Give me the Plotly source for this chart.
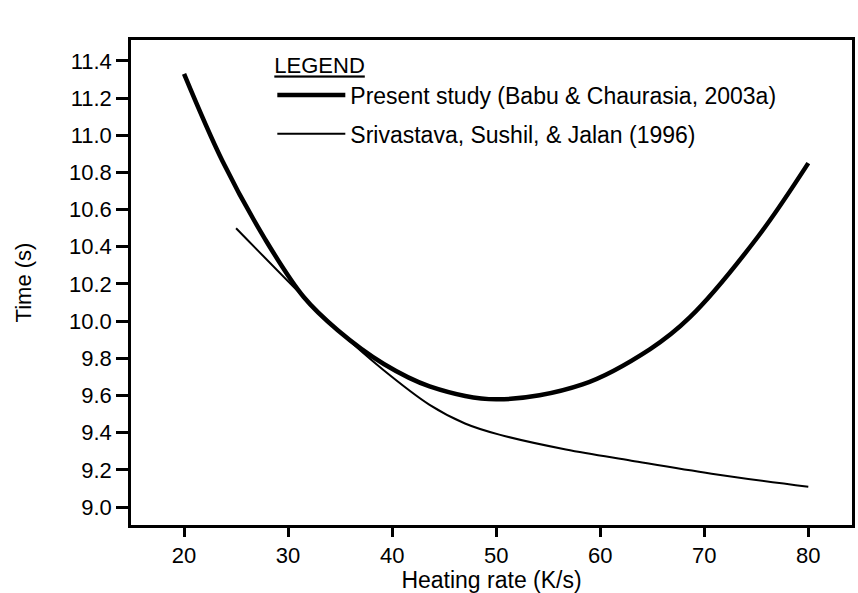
import plotly.graph_objects as go

# Present study (Babu & Chaurasia, 2003a)
present_x = [20, 23.7, 27.8, 31.5, 34.8, 39.2, 43.6, 50, 58.3, 64.8, 68.6, 75.1, 80]
present_y = [11.33, 10.86, 10.44, 10.13, 9.95, 9.77, 9.65, 9.58, 9.66, 9.85, 10.02, 10.45, 10.85]

# Srivastava, Sushil, & Jalan (1996)
sriv_x = [25, 31.5, 35, 39.1, 43.6, 47, 50.3, 56.7, 63, 70.7, 80]
sriv_y = [10.50, 10.13, 9.94, 9.74, 9.55, 9.45, 9.39, 9.31, 9.25, 9.18, 9.11]

x_ticks = [20, 30, 40, 50, 60, 70, 80]
y_ticks = [9.0, 9.2, 9.4, 9.6, 9.8, 10.0, 10.2, 10.4, 10.6, 10.8, 11.0, 11.2, 11.4]

FONT = "Liberation Sans, Arial, sans-serif"

fig = go.Figure()
fig.add_trace(go.Scatter(
    x=present_x, y=present_y, mode="lines", legendgroup="a",
    line=dict(color="black", width=4.5, shape="spline", smoothing=1.0),
    name="Present study (Babu & Chaurasia, 2003a)"))
fig.add_trace(go.Scatter(
    x=sriv_x, y=sriv_y, mode="lines", legendgroup="b",
    line=dict(color="black", width=2, shape="spline", smoothing=1.0),
    name="Srivastava, Sushil, & Jalan (1996)"))

fig.update_layout(
    width=858, height=593,
    margin=dict(l=131, r=3, t=40, b=63),
    paper_bgcolor="white", plot_bgcolor="white",
    font=dict(family=FONT, size=22, color="black"),
    showlegend=True,
    legend=dict(
        title=dict(text="<u>LEGEND</u>", font=dict(size=22, family=FONT)),
        x=0.196, y=0.99, xanchor="left", yanchor="top",
        bgcolor="rgba(0,0,0,0)", borderwidth=0,
        font=dict(size=23, family=FONT), itemwidth=68, tracegroupgap=6,
    ),
)
fig.update_xaxes(
    range=[14.9, 84.2], tickvals=x_ticks, ticktext=[str(v) for v in x_ticks],
    showgrid=False, zeroline=False, showline=True, linecolor="black", linewidth=2.5,
    mirror=True, ticks="outside", ticklen=9, tickwidth=2.5, tickcolor="black",
    tickfont=dict(size=22, family=FONT),
    title=dict(text="Heating rate (K/s)", font=dict(size=23, family=FONT), standoff=6),
)
fig.update_yaxes(
    range=[8.904, 11.512], tickvals=y_ticks, ticktext=[f"{v:.1f}" for v in y_ticks],
    showgrid=False, zeroline=False, showline=True, linecolor="black", linewidth=2.5,
    mirror=True, ticks="outside", ticklen=12, tickwidth=2.5, tickcolor="black",
    tickfont=dict(size=22, family=FONT),
    title=dict(text="Time (s)", font=dict(size=22, family=FONT), standoff=32),
)

fig.write_html("out.html")
